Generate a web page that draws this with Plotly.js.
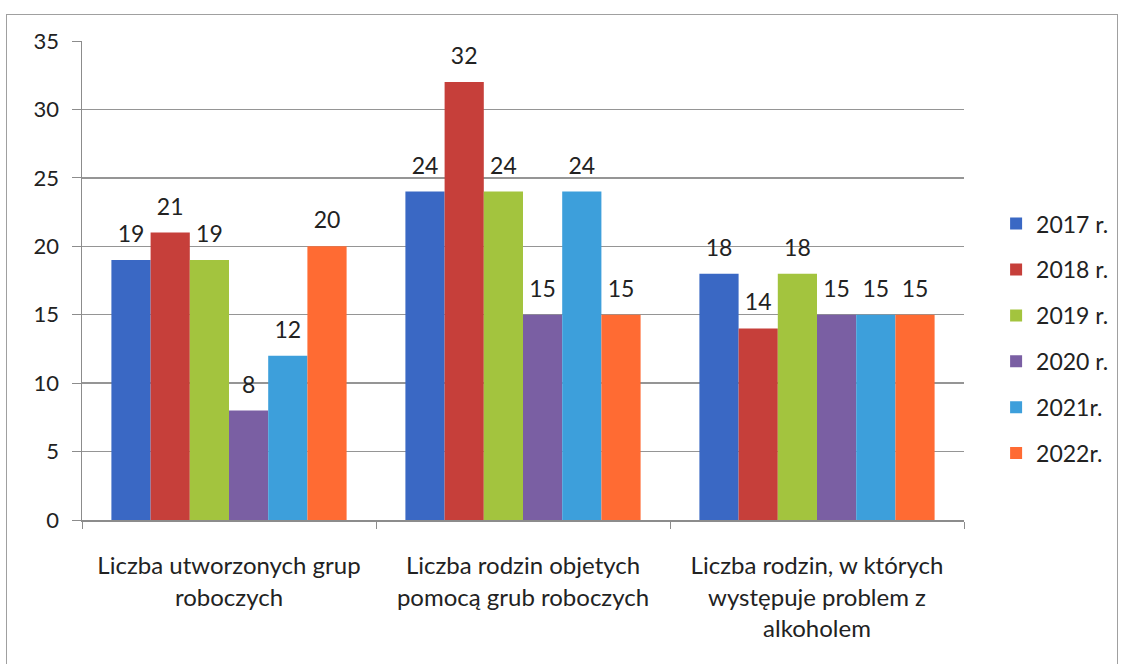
<!DOCTYPE html>
<html>
<head>
<meta charset="utf-8">
<script src="https://cdn.plot.ly/plotly-3.0.1.min.js"></script>
<style>
  html, body { margin: 0; padding: 0; background: #fff; overflow: hidden; }
  #frame { position: absolute; left: 6px; top: 14px; width: 1112px; height: 700px; border: 1.5px solid #a0a0a0; box-sizing: border-box; }
  #chart { position: absolute; left: 0; top: 0; width: 1123px; height: 664px; }
</style>
</head>
<body>
<div id="frame"></div>
<div id="chart"></div>
<script>
const categories = [
  "Liczba utworzonych grup<br>roboczych",
  "Liczba rodzin objetych<br>pomocą grub roboczych",
  "Liczba rodzin, w których<br>występuje problem z<br>alkoholem"
];
const seriesNames = ["2017 r.", "2018 r.", "2019 r.", "2020 r.", "2021r.", "2022r."];
const v2017 = [19, 24, 18];
const v2018 = [21, 32, 14];
const v2019 = [19, 24, 18];
const v2020 = [8, 15, 15];
const v2021 = [12, 24, 15];
const v2022 = [20, 15, 15];
const seriesValues = [v2017, v2018, v2019, v2020, v2021, v2022];
const colors = ["#3A68C4", "#C63F3A", "#A3C43E", "#7A5FA3", "#3D9FDB", "#FF6B33"];
const yTicks = [0, 5, 10, 15, 20, 25, 30, 35];

const FONT = "Lato, 'Open Sans', sans-serif";

const barTraces = seriesNames.map((name, i) => ({
  type: "bar",
  name: name,
  x: categories,
  y: seriesValues[i],
  marker: { color: colors[i] },
  cliponaxis: false,
  legendgroup: "g" + i,
  hoverinfo: "x+y+name"
}));

const labelTraces = seriesNames.map((name, i) => ({
  type: "scatter",
  mode: "markers+text",
  name: name + " etykiety",
  x: categories,
  y: seriesValues[i],
  text: seriesValues[i].map(String),
  textposition: "top center",
  textfont: { family: FONT, size: 23, color: "#222" },
  marker: { size: 18, color: "rgba(0,0,0,0)" },
  cliponaxis: false,
  showlegend: false,
  hoverinfo: "skip"
}));

const layout = {
  width: 1123,
  height: 664,
  paper_bgcolor: "rgba(0,0,0,0)",
  plot_bgcolor: "rgba(0,0,0,0)",
  margin: { l: 82, r: 159, t: 41, b: 144 },
  barmode: "group",
  bargap: 0.2,
  bargroupgap: 0,
  scattermode: "group",
  scattergap: 0.2,
  font: { family: FONT, size: 22, color: "#222" },
  showlegend: true,
  legend: {
    xref: "container",
    yref: "container",
    x: 0.887, xanchor: "left",
    y: 0.49, yanchor: "middle",
    font: { family: FONT, size: 23, color: "#222" },
    traceorder: "grouped",
    tracegroupgap: 13,
    itemwidth: 30,
    bgcolor: "rgba(0,0,0,0)"
  },
  xaxis: {
    type: "category",
    showgrid: false,
    showline: true,
    linecolor: "#8c8c8c",
    linewidth: 1.5,
    ticks: "outside",
    tickson: "boundaries",
    ticklen: 7,
    tickcolor: "#8c8c8c",
    tickfont: { family: FONT, size: 24, color: "#222" },
    ticklabelstandoff: 24,
    automargin: false
  },
  yaxis: {
    range: [0, 35],
    tickvals: yTicks,
    ticktext: yTicks.map(String),
    showgrid: true,
    gridcolor: "#959595",
    gridwidth: 1.3,
    showline: true,
    linecolor: "#8c8c8c",
    linewidth: 1.5,
    ticks: "outside",
    ticklen: 9,
    tickcolor: "#8c8c8c",
    tickfont: { family: FONT, size: 22, color: "#222" },
    ticklabelstandoff: 8,
    zeroline: false,
    automargin: false
  }
};

Plotly.newPlot("chart", barTraces.concat(labelTraces), layout, { displayModeBar: false, staticPlot: true });
</script>
</body>
</html>
